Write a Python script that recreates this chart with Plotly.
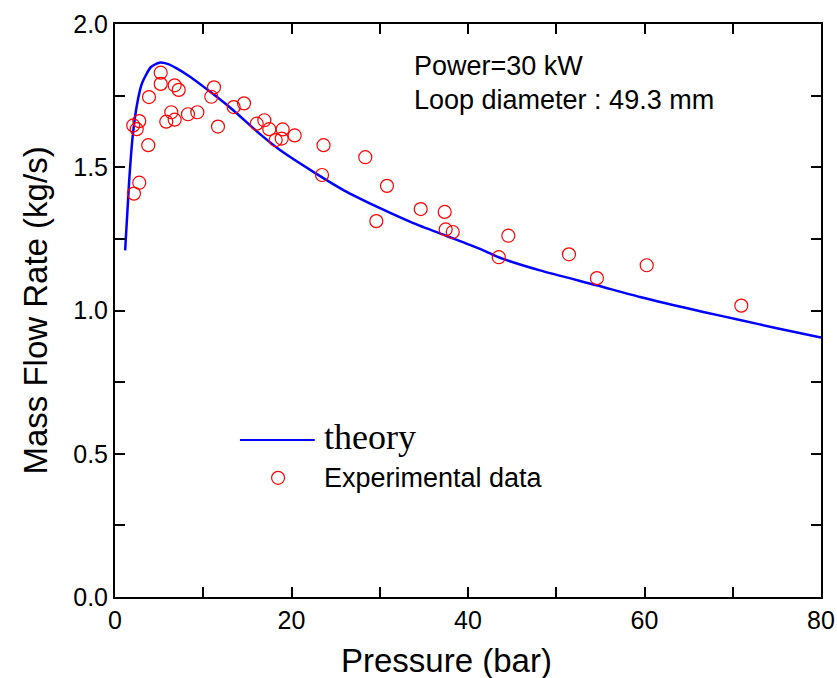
import plotly.graph_objects as go

# Theory curve
theory_p = [1.15, 1.6, 2.0, 2.5, 3.06, 4.05, 5.02, 6.04, 6.99, 8.5, 10.76, 13.4, 16.0, 18.7,
            22.47, 26.26, 30.03, 33.8, 37.59, 41.36, 43.55, 48.16, 54.58, 59.49, 66.66, 70.82, 75.0, 80.0]
theory_m = [1.21, 1.45, 1.607, 1.72, 1.793, 1.849, 1.865, 1.860, 1.845, 1.816, 1.764, 1.699, 1.627, 1.560,
            1.484, 1.414, 1.357, 1.305, 1.260, 1.215, 1.185, 1.140, 1.088, 1.047, 0.995, 0.967, 0.938, 0.906]

# Experimental data
exp_p = [2.07, 2.46, 2.75, 2.15, 2.75, 3.77, 3.85, 5.18, 5.18, 5.81, 6.38, 6.76, 6.76, 7.22,
         8.27, 9.33, 10.91, 11.22, 11.67, 13.45, 14.62, 16.06, 16.92, 17.48, 18.21, 18.89, 19.00,
         20.36, 23.46, 23.63, 28.36, 29.61, 30.82, 34.64, 37.36, 37.47, 38.27, 43.49, 44.57,
         51.44, 54.61, 60.25, 70.97]
exp_m = [1.646, 1.633, 1.661, 1.408, 1.446, 1.577, 1.745, 1.830, 1.791, 1.659, 1.692, 1.786, 1.666, 1.770,
         1.685, 1.692, 1.746, 1.779, 1.642, 1.710, 1.723, 1.652, 1.664, 1.633, 1.595, 1.600, 1.632,
         1.611, 1.473, 1.577, 1.535, 1.312, 1.435, 1.354, 1.344, 1.283, 1.274, 1.186, 1.261,
         1.196, 1.113, 1.158, 1.017]

fig = go.Figure()
fig.add_trace(go.Scatter(x=theory_p, y=theory_m, mode="lines", name="theory",
                         line=dict(color="#0000ff", width=2.5, shape="spline", smoothing=0.6),
                         showlegend=False))
fig.add_trace(go.Scatter(x=exp_p, y=exp_m, mode="markers", name="Experimental data",
                         marker=dict(symbol="circle-open", size=13, color="#ff0000",
                                     line=dict(color="#ff0000", width=1.2)), showlegend=False))

axis_common = dict(showline=True, linecolor="black", linewidth=2, mirror="ticks",
                   ticks="inside", ticklen=10, tickwidth=2, tickcolor="black",
                   showgrid=False, zeroline=False, automargin=False,
                   tickfont=dict(family="Arial, Liberation Sans", size=25, color="black"))
fig.update_xaxes(range=[0, 80], tick0=0, dtick=20,
                 minor=dict(dtick=10, ticks="inside", ticklen=10, tickwidth=2, tickcolor="black"),
                 **axis_common)
fig.update_yaxes(range=[0, 2.0], tick0=0, dtick=0.5, tickformat=".1f",
                 minor=dict(dtick=0.25, ticks="inside", ticklen=10, tickwidth=2, tickcolor="black"),
                 title=dict(text="Mass Flow Rate (kg/s)", font=dict(family="Arial, Liberation Sans", size=33, color="black"),
                            standoff=16),
                 **axis_common)

txt_font = dict(family="Arial, Liberation Sans", size=27, color="black")
annotations = [
    dict(x=0.469, y=-0.11, xref="paper", yref="paper", text="Pressure (bar)", showarrow=False,
         xanchor="center", yanchor="middle",
         font=dict(family="Arial, Liberation Sans", size=33, color="black")),
    dict(x=0.421, y=0.927, xref="paper", yref="paper", text="Power=30 kW", showarrow=False,
         xanchor="left", yanchor="middle", font=txt_font),
    dict(x=0.421, y=0.867, xref="paper", yref="paper", text="Loop diameter : 49.3 mm", showarrow=False,
         xanchor="left", yanchor="middle", font=txt_font),
    dict(x=0.293, y=0.28, xref="paper", yref="paper", text="theory", showarrow=False,
         xanchor="left", yanchor="middle",
         font=dict(family="Liberation Serif, Times New Roman, serif", size=36, color="black")),
    dict(x=0.293, y=0.208, xref="paper", yref="paper", text="Experimental data", showarrow=False,
         xanchor="left", yanchor="middle", font=txt_font),
]
shapes = [
    dict(type="line", xref="paper", yref="paper", x0=0.177, x1=0.283, y0=0.274, y1=0.274,
         line=dict(color="#0000ff", width=2)),
    dict(type="circle", xref="paper", yref="paper", xsizemode="pixel", ysizemode="pixel",
         xanchor=0.231, yanchor=0.208, x0=-6.5, x1=6.5, y0=-6.5, y1=6.5,
         line=dict(color="#ff0000", width=1.2)),
]

fig.update_layout(width=837, height=678, margin=dict(l=115, r=16, t=24, b=81),
                  paper_bgcolor="white", plot_bgcolor="white",
                  annotations=annotations, shapes=shapes)

fig.write_html("out.html")
